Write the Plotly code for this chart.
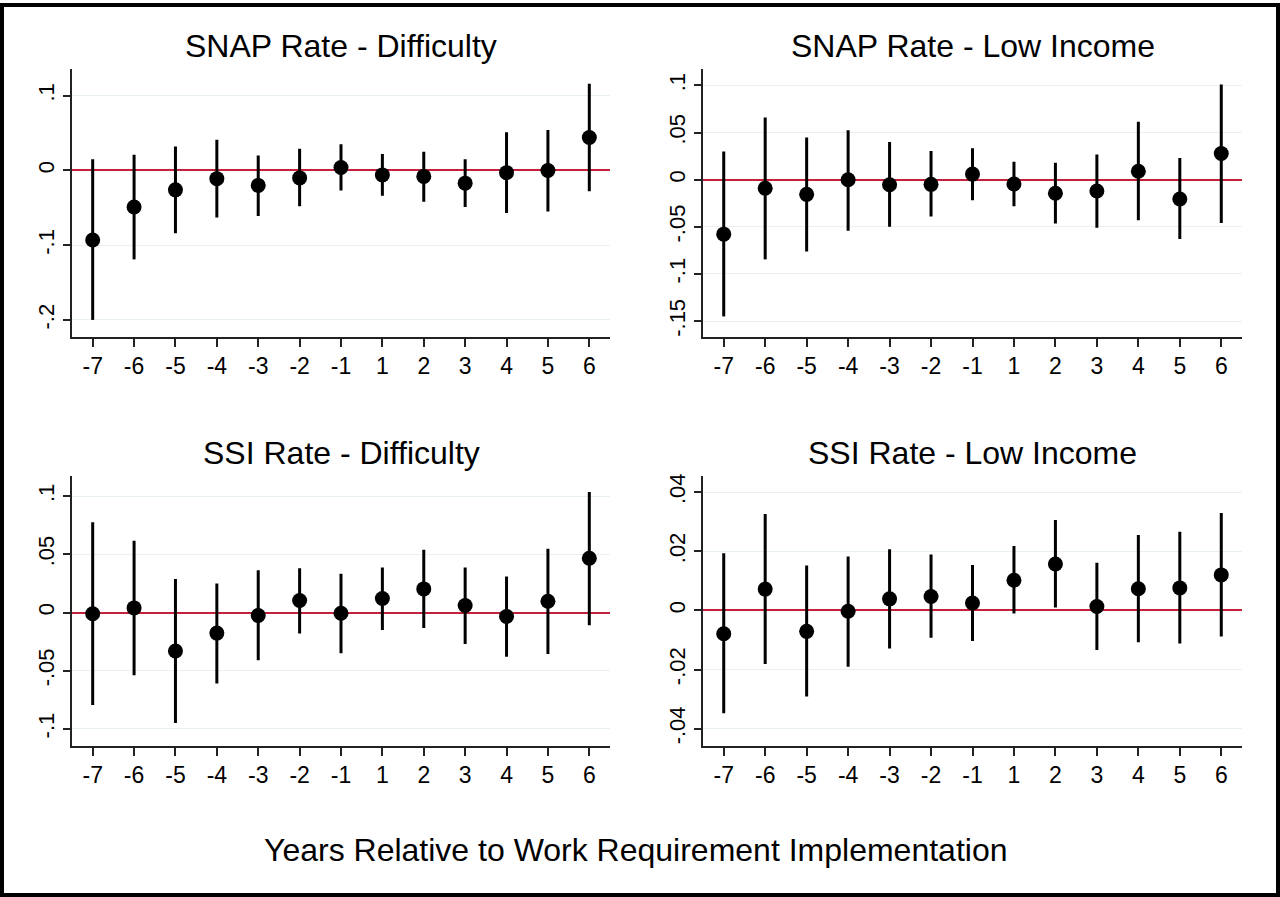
import plotly.graph_objects as go

W, H = 1280, 897

years = ["-7", "-6", "-5", "-4", "-3", "-2", "-1", "1", "2", "3", "4", "5", "6"]

titles = ["SNAP Rate - Difficulty", "SNAP Rate - Low Income",
          "SSI Rate - Difficulty", "SSI Rate - Low Income"]

snap_diff_est = [-0.093, -0.049, -0.026, -0.011, -0.020, -0.010, 0.004, -0.006, -0.008, -0.017, -0.003, 0.000, 0.044]
snap_diff_hi = [0.015, 0.021, 0.032, 0.041, 0.020, 0.029, 0.035, 0.022, 0.025, 0.015, 0.051, 0.054, 0.116]
snap_diff_lo = [-0.200, -0.119, -0.084, -0.063, -0.061, -0.048, -0.027, -0.034, -0.042, -0.049, -0.057, -0.055, -0.028]

snap_low_est = [-0.0577, -0.009, -0.0155, 0.000, -0.0053, -0.0049, 0.006, -0.0046, -0.0144, -0.012, 0.009, -0.0204, 0.0278]
snap_low_hi = [0.030, 0.066, 0.0447, 0.0525, 0.040, 0.0306, 0.0335, 0.019, 0.018, 0.0268, 0.0616, 0.023, 0.101]
snap_low_lo = [-0.145, -0.0845, -0.076, -0.054, -0.050, -0.039, -0.0218, -0.028, -0.0465, -0.051, -0.043, -0.063, -0.046]

ssi_diff_est = [-0.001, 0.004, -0.0331, -0.0177, -0.0026, 0.0103, -0.0006, 0.012, 0.0203, 0.006, -0.0034, 0.0097, 0.0466]
ssi_diff_hi = [0.0777, 0.0617, 0.0289, 0.0249, 0.0363, 0.038, 0.0334, 0.0386, 0.054, 0.0386, 0.0309, 0.0549, 0.1037]
ssi_diff_lo = [-0.0794, -0.054, -0.095, -0.0609, -0.041, -0.018, -0.0349, -0.0151, -0.0134, -0.027, -0.038, -0.0357, -0.0109]

ssi_low_est = [-0.0079, 0.0072, -0.0071, -0.0003, 0.0039, 0.0047, 0.0025, 0.0102, 0.0157, 0.0013, 0.0073, 0.0076, 0.0120]
ssi_low_hi = [0.0193, 0.0326, 0.0152, 0.0182, 0.0207, 0.0189, 0.0153, 0.0218, 0.0306, 0.0161, 0.0255, 0.0266, 0.0329]
ssi_low_lo = [-0.0348, -0.0181, -0.0291, -0.0191, -0.0129, -0.0093, -0.0104, -0.0011, 0.0010, -0.0134, -0.0108, -0.0112, -0.0088]

ytick_vals = [
    [0.1, 0.0, -0.1, -0.2],
    [0.1, 0.05, 0.0, -0.05, -0.1, -0.15],
    [0.1, 0.05, 0.0, -0.05, -0.1],
    [0.04, 0.02, 0.0, -0.02, -0.04],
]
ytick_text = [
    [".1", "0", "-.1", "-.2"],
    [".1", ".05", "0", "-.05", "-.1", "-.15"],
    [".1", ".05", "0", "-.05", "-.1"],
    [".04", ".02", "0", "-.02", "-.04"],
]
y_ranges = [[-0.2227, 0.136], [-0.1667, 0.1177], [-0.1143, 0.117], [-0.0457, 0.0453]]

x_title = "Years Relative to Work Requirement Implementation"

series = [
    (snap_diff_est, snap_diff_hi, snap_diff_lo),
    (snap_low_est, snap_low_hi, snap_low_lo),
    (ssi_diff_est, ssi_diff_hi, ssi_diff_lo),
    (ssi_low_est, ssi_low_hi, ssi_low_lo),
]

# pixel boxes of panels: (left, right, top, bottom)
boxes = [(72, 610, 66, 335), (703, 1242, 66, 335), (72, 610, 475, 745), (703, 1242, 475, 745)]
title_y = [43, 43, 452, 452]

fig = go.Figure()
layout = dict(
    width=W, height=H, margin=dict(l=0, r=0, t=0, b=0),
    paper_bgcolor="white", plot_bgcolor="white", showlegend=False,
    font=dict(family="Liberation Sans, Arial, sans-serif", color="black"),
    annotations=[], shapes=[],
)

for i, (est, hi, lo) in enumerate(series):
    n = i + 1
    xa = "x" if n == 1 else f"x{n}"
    ya = "y" if n == 1 else f"y{n}"
    plus = [h - e for h, e in zip(hi, est)]
    minus = [e - l for e, l in zip(est, lo)]
    fig.add_trace(go.Scatter(
        x=years, y=est, xaxis=xa, yaxis=ya, mode="markers",
        marker=dict(color="black", size=15),
        error_y=dict(type="data", symmetric=False, array=plus, arrayminus=minus,
                     color="black", thickness=3, width=0),
        hoverinfo="skip",
    ))
    l, r, t, b = boxes[i]
    layout[f"xaxis{'' if n == 1 else n}"] = dict(
        domain=[l / W, r / W], anchor=ya, type="category",
        categoryorder="array", categoryarray=years, range=[-0.5, 12.5],
        showline=True, linecolor="#222", linewidth=2, ticks="outside",
        ticklen=8, tickwidth=2, tickcolor="#222", showgrid=False,
        tickfont=dict(size=23), zeroline=False,
    )
    layout[f"yaxis{'' if n == 1 else n}"] = dict(
        domain=[1 - b / H, 1 - t / H], anchor=xa, range=y_ranges[i],
        tickvals=ytick_vals[i], ticktext=ytick_text[i], tickangle=-90,
        showline=True, linecolor="#222", linewidth=2, ticks="outside",
        ticklen=7, tickwidth=2, tickcolor="#222",
        showgrid=True, gridcolor="#e9f0f2", gridwidth=1,
        zeroline=True, zerolinecolor="#c4213c", zerolinewidth=2,
        tickfont=dict(size=22),
    )
    layout["annotations"].append(dict(
        text=titles[i], x=(l + r) / 2 / W, y=1 - title_y[i] / H, xref="paper", yref="paper",
        xanchor="center", yanchor="middle", showarrow=False, font=dict(size=32),
    ))

layout["annotations"].append(dict(
    text=x_title, x=635 / W, y=1 - 850 / H, xref="paper", yref="paper",
    xanchor="center", yanchor="middle", showarrow=False, font=dict(size=32),
))
layout["shapes"].append(dict(
    type="rect", xref="paper", yref="paper", x0=2 / W, x1=1 - 2 / W, y0=2 / H, y1=1 - 2 / H,
    line=dict(color="black", width=4), fillcolor="rgba(0,0,0,0)",
))

fig.update_layout(**layout)
fig.write_html("out.html", config={"displayModeBar": False},
               post_script="document.body.style.margin='0';document.body.style.overflow='hidden';")
